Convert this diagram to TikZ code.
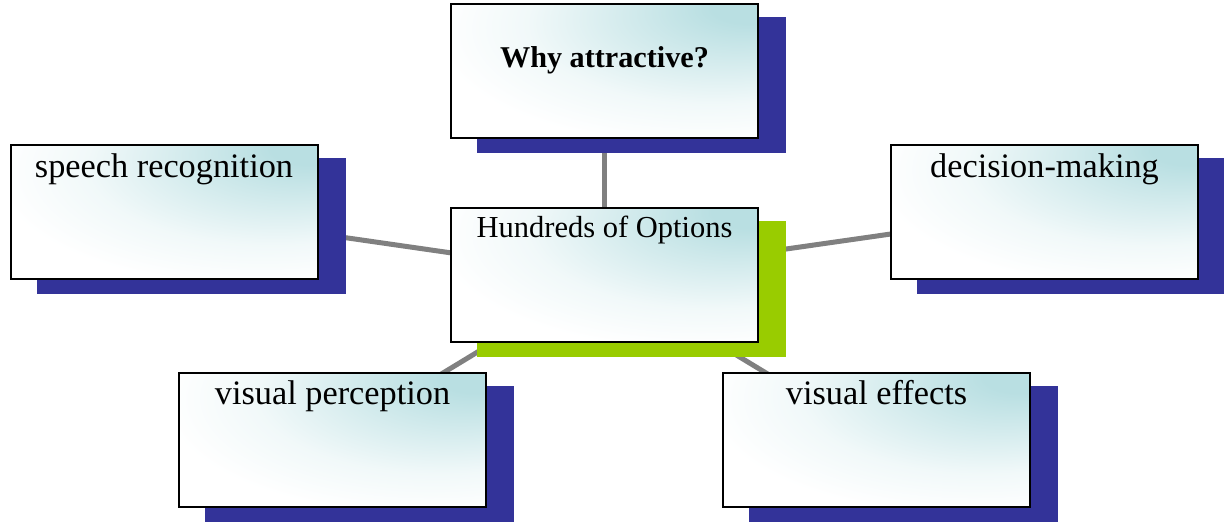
\documentclass[tikz,border=0pt]{standalone}
\usepackage{fontspec}
\setmainfont{Liberation Serif}
\usetikzlibrary{shadings}
\pgfdeclarelayer{lines}
\pgfdeclarelayer{background}
\pgfsetlayers{lines,background,main}
\definecolor{shadowblue}{HTML}{333399}
\definecolor{shadowgreen}{HTML}{99CC00}
\definecolor{linkgray}{HTML}{808080}
\definecolor{boxcyan}{HTML}{B9DFE2}
\colorlet{boxmid}{boxcyan!60!white}
\colorlet{boxlow}{boxcyan!20!white}
\pgfdeclareradialshading{cornerglow}{\pgfpoint{25bp}{25bp}}{%
  color(0bp)=(boxcyan); color(6bp)=(boxcyan); color(18bp)=(boxmid);
  color(30bp)=(boxlow); color(42bp)=(white); color(100bp)=(white)}
\tikzset{
  gbox/.style={draw=black, line width=2pt, minimum width=307pt, minimum height=134pt,
    inner sep=0pt, shading=cornerglow},
  big/.style={font=\fontsize{34.3}{40}\selectfont, anchor=base, inner sep=0pt},
  mid/.style={font=\fontsize{30.5}{36}\selectfont, anchor=base, inner sep=0pt},
  link/.style={draw=linkgray, line width=5pt},
}
\begin{document}
\begin{tikzpicture}[x=1pt,y=-1pt]
\useasboundingbox (0,0) rectangle (1224,528);
\node[gbox] (top) at (604.5,70.5) {};
\node[gbox] (ctr) at (604.5,275) {};
\node[gbox] (sp) at (164,211.5) {};
\node[gbox] (dm) at (1044.5,212) {};
\node[gbox] (vp) at (332.5,440) {};
\node[gbox] (ve) at (876.5,440) {};
\node[mid, font=\fontsize{30.2}{36}\selectfont\bfseries] (ttop) at ([yshift=-65pt]top.north) {Why attractive?};
\node[mid] (tctr) at ([yshift=-30pt]ctr.north) {Hundreds of Options};
\node[big] (tsp) at ([yshift=-34pt]sp.north) {speech recognition};
\node[big] (tdm) at ([yshift=-33pt]dm.north) {decision-making};
\node[big] (tvp) at ([yshift=-32pt]vp.north) {visual perception};
\node[big] (tve) at ([yshift=-32pt]ve.north) {visual effects};
\begin{pgfonlayer}{background}
  \foreach \n/\c in {top/shadowblue, sp/shadowblue, dm/shadowblue, vp/shadowblue, ve/shadowblue, ctr/shadowgreen}{
    \fill[\c] ([shift={(27pt,-14pt)}]\n.south west) rectangle ([shift={(27pt,-14pt)}]\n.north east);
  }
\end{pgfonlayer}
\begin{pgfonlayer}{lines}
  \draw[link] (ctr.center) -- (top.center);
  \draw[link] (ctr.center) -- (sp.center);
  \draw[link] (ctr.center) -- (dm.center);
  \draw[link] (ctr.center) -- (vp.center);
  \draw[link] (ctr.center) -- (ve.center);
\end{pgfonlayer}
\end{tikzpicture}
\end{document}
